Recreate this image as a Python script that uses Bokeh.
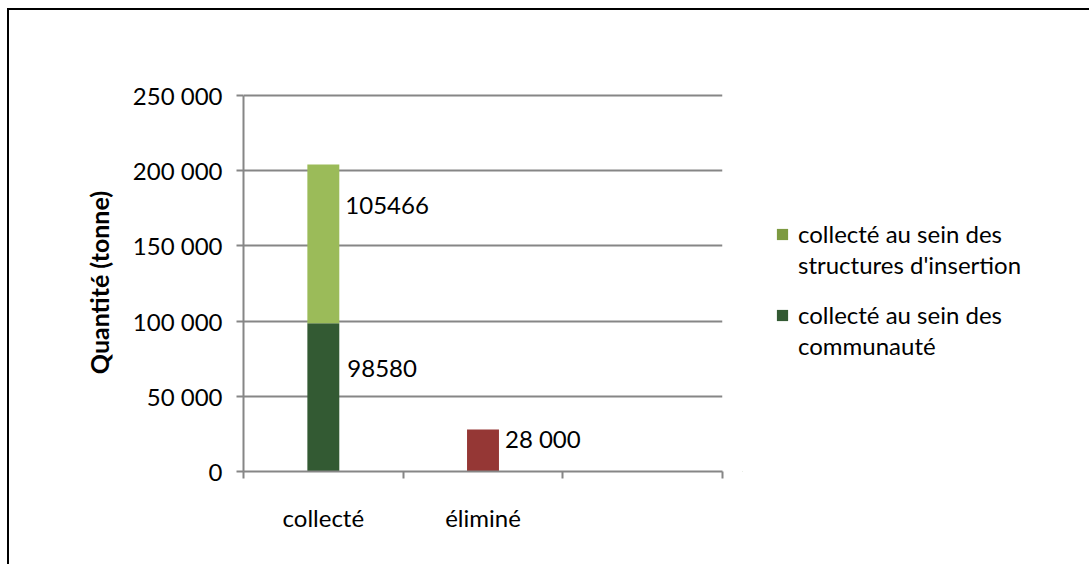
from bokeh.plotting import figure
from bokeh.layouts import row
from bokeh.models import Range1d, FixedTicker, Legend, LegendItem, ColumnDataSource
from bokeh.core.properties import value
from bokeh.embed import file_html
from bokeh.resources import INLINE

categories = ["collecté", "éliminé", ""]
communaute = [98580, 0, 0]
insertion = [105466, 0, 0]
elimine = [0, 28000, 0]
legend_lines = [["collecté au sein des", "structures d'insertion"],
                ["collecté au sein des", "communauté"]]
y_ticks = [0, 50000, 100000, 150000, 200000, 250000]
y_tick_labels = ["0", "50 000", "100 000", "150 000", "200 000", "250 000"]
label_texts = ["105466", "98580", "28 000"]

FONT = "Lato"
FS = "24px"
GRAY = "#868686"
C_LIGHT = "#9BBB59"
C_DARK = "#335A33"
C_RED = "#953735"
C_LEG_LIGHT = "#7D9A41"
C_LEG_DARK = "#335A33"

n = len(categories)
xc = [i + 0.5 for i in range(n)]
bw = 0.2
H = 554
MB_TOP, MB_BOTTOM = 83, 93
Y_MAX = 250000
Y_PAD = 1330  # small headroom so the top gridline is drawn

p = figure(width=733, height=H, output_backend="svg", toolbar_location=None,
           x_range=Range1d(0, n), y_range=Range1d(0, Y_MAX + Y_PAD),
           min_border_left=234, min_border_right=20, min_border_top=MB_TOP, min_border_bottom=MB_BOTTOM)
p.outline_line_color = None
p.background_fill_color = "white"
p.border_fill_color = "white"

dark_src = ColumnDataSource(dict(x=xc, bottom=[0] * n, top=communaute))
light_src = ColumnDataSource(dict(x=xc, bottom=communaute,
                                  top=[a + b for a, b in zip(communaute, insertion)]))
red_src = ColumnDataSource(dict(x=xc, bottom=[0] * n, top=elimine))

p.vbar(x="x", bottom="bottom", top="top", width=bw, source=dark_src,
       fill_color=C_DARK, line_color=None)
p.vbar(x="x", bottom="bottom", top="top", width=bw, source=light_src,
       fill_color=C_LIGHT, line_color=None)
p.vbar(x="x", bottom="bottom", top="top", width=bw, source=red_src,
       fill_color=C_RED, line_color=None)

# data labels
lab_x = [xc[0] + bw / 2, xc[0] + bw / 2, xc[1] + bw / 2]
lab_y = [communaute[0] + insertion[0], communaute[0], elimine[1]]
lab_yoff = [41, 45, 9]
lab_xoff = [6, 8, 6]
lab_src = ColumnDataSource(dict(x=lab_x, y=lab_y, text=label_texts, yo=lab_yoff, xo=lab_xoff))
p.text(x="x", y="y", text="text", source=lab_src, x_offset="xo", y_offset="yo",
       text_font=value(FONT), text_font_size=FS, text_baseline="middle", text_align="left",
       text_color="black")

# y axis
p.yaxis.ticker = FixedTicker(ticks=y_ticks)
p.yaxis.major_label_overrides = {t: l for t, l in zip(y_ticks, y_tick_labels)}
p.yaxis.bounds = (0, Y_MAX)
p.yaxis.minor_tick_line_color = None
p.yaxis.major_tick_in = 0
p.yaxis.major_tick_out = 7
p.yaxis.major_tick_line_color = GRAY
p.yaxis.major_tick_line_width = 2
p.yaxis.axis_line_color = GRAY
p.yaxis.axis_line_width = 2
p.yaxis.major_label_text_font = FONT
p.yaxis.major_label_text_font_size = FS
p.yaxis.major_label_text_color = "black"
p.yaxis.major_label_standoff = 14
p.yaxis.axis_label = "Quantité (tonne)"
p.yaxis.axis_label_text_font = FONT
p.yaxis.axis_label_text_font_style = "bold"
p.yaxis.axis_label_text_font_size = "25px"
p.yaxis.axis_label_text_color = "black"
p.yaxis.axis_label_standoff = 16

# x axis: labels at category centres, ticks at boundaries
p.xaxis.ticker = FixedTicker(ticks=xc, minor_ticks=list(range(n + 1)))
p.xaxis.major_label_overrides = {x: c for x, c in zip(xc, categories)}
p.xaxis.major_tick_line_color = None
p.xaxis.minor_tick_in = 0
p.xaxis.minor_tick_out = 7
p.xaxis.minor_tick_line_color = GRAY
p.xaxis.minor_tick_line_width = 2
p.xaxis.axis_line_color = GRAY
p.xaxis.axis_line_width = 2
p.xaxis.major_label_text_font = FONT
p.xaxis.major_label_text_font_size = FS
p.xaxis.major_label_text_color = "black"
p.xaxis.major_label_standoff = 24

p.xgrid.grid_line_color = None
p.ygrid.ticker = FixedTicker(ticks=y_ticks)
p.ygrid.grid_line_color = GRAY
p.ygrid.grid_line_width = 2

# legend panel (separate canvas to the right of the plot)
p2 = figure(width=1080 - 733, height=H, output_backend="svg", toolbar_location=None,
            x_axis_location=None, y_axis_location=None,
            x_range=Range1d(0, 1), y_range=Range1d(0, 1),
            min_border_left=0, min_border_right=0, min_border_top=MB_TOP, min_border_bottom=MB_BOTTOM)
p2.outline_line_color = None
p2.xgrid.grid_line_color = None
p2.ygrid.grid_line_color = None
p2.background_fill_color = "white"
p2.border_fill_color = "white"
# proxy glyphs for the legend swatches (kept outside the visible range)
proxy = ColumnDataSource(dict(x=[-5], top=[-5], bottom=[-6]))
rl = p2.vbar(x="x", top="top", bottom="bottom", width=1, source=proxy, fill_color=C_LEG_LIGHT, line_color=None)
rd = p2.vbar(x="x", top="top", bottom="bottom", width=1, source=proxy, fill_color=C_LEG_DARK, line_color=None)
rb = p2.vbar(x="x", top="top", bottom="bottom", width=1, source=proxy, fill_alpha=0, line_alpha=0)

leg_bottoms = [192, 111]
for lines, r, yb in zip(legend_lines, [rl, rd], leg_bottoms):
    lg = Legend(items=[LegendItem(label=lines[0], renderers=[r]),
                       LegendItem(label=lines[1], renderers=[rb])],
                location=(33, yb), orientation="vertical")
    lg.border_line_color = None
    lg.background_fill_alpha = 0
    lg.padding = 0
    lg.margin = 0
    lg.spacing = 2
    lg.glyph_width = 14
    lg.glyph_height = 14
    lg.label_standoff = 9
    lg.label_height = 20
    lg.label_text_font = FONT
    lg.label_text_font_size = FS
    lg.label_text_color = "black"
    p2.add_layout(lg, "center")

layout = row(p, p2, spacing=0)
layout.margin = (8, 0, 0, 7)
layout.styles = {"border-top": "2px solid black", "border-left": "2px solid black"}

open("out.html", "w").write(file_html(layout, INLINE))
